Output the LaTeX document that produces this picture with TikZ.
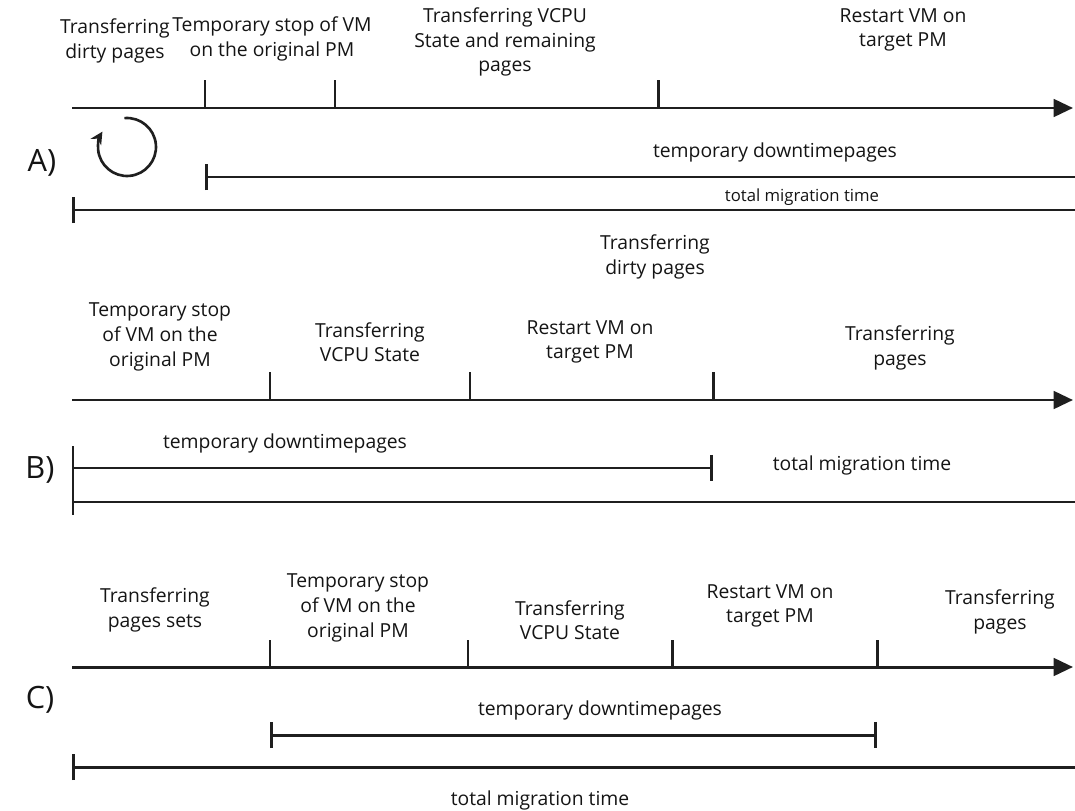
\documentclass[tikz,border=0pt]{standalone}
\usepackage{fontspec}
\setmainfont{Open Sans}
\usetikzlibrary{arrows.meta}
\tikzset{
  axis/.style={line width=1.7pt, draw=black!88, -{Triangle[length=11pt,width=10pt]}},
  tick/.style={line width=1.7pt, draw=black!88},
  span/.style={line width=1.7pt, draw=black!88},
  lbl/.style={align=center, inner sep=0pt, text=black!92, font=\fontsize{11}{14}\selectfont},
  small/.style={lbl, font=\fontsize{9.5}{12}\selectfont},
  part/.style={inner sep=0pt, text=black!92, font=\fontsize{17.5}{20}\selectfont},
}
\begin{document}
\begin{tikzpicture}[x=0.02cm, y=-0.02cm]
    \useasboundingbox (0,0) rectangle (1075,811);
    % A)
    \node[part] (partA) at (42,163) {A)};
    \node[lbl] (a1) at (115,41) {Transferring\\dirty pages};
    \node[lbl] (a2) at (272,39) {Temporary stop of VM\\on the original PM};
    \node[lbl] (a3) at (505,42) {Transferring VCPU\\State and remaining\\pages};
    \node[lbl] (a4) at (903,30) {Restart VM on\\target PM};
    \draw[axis] (72,108) -- (1073,108);
    \foreach \x in {205,335,658} \draw[tick] (\x,108) -- (\x,80);
    \draw[tick, line width=1.5pt, -{Stealth[length=7pt,width=7pt]}] (127,147) ++(95:16.5pt) arc[start angle=95, end angle=-212, radius=16.5pt];
    \node[lbl] (downA) at (775,152) {temporary downtimepages};
    \draw[span, {Bar[width=15pt]}-] (205,177) -- (1075,177);
    \node[small] (totalA) at (802,197) {total migration time};
    \draw[span, {Bar[width=15pt]}-] (72,210) -- (1075,210);
    \node[lbl] (dirty) at (655,257) {Transferring\\dirty pages};
    % B)
    \node[part] (partB) at (40,470) {B)};
    \node[lbl] (b1) at (160,337) {Temporary stop\\of VM on the\\original PM};
    \node[lbl] (b2) at (370,342) {Transferring\\VCPU State};
    \node[lbl] (b3) at (590,342) {Restart VM on\\target PM};
    \node[lbl] (b4) at (900,348) {Transferring\\pages};
    \draw[axis] (72,400) -- (1073,400);
    \foreach \x in {270,470,713} \draw[tick] (\x,400) -- (\x,372);
    \node[lbl] (downB) at (285,443) {temporary downtimepages};
    \draw[span, -{Bar[width=15pt]}] (72,468) -- (713,468);
    \draw[tick] (73,446) -- (73,515);
    \node[lbl] (totalB) at (862,465) {total migration time};
    \draw[span] (72,502) -- (1075,502);
    % C)
    \node[part] (partC) at (40,700) {C)};
    \node[lbl] (c1) at (155,610) {Transferring\\pages sets};
    \node[lbl] (c2) at (358,608) {Temporary stop\\of VM on the\\original PM};
    \node[lbl] (c3) at (570,620) {Transferring\\VCPU State};
    \node[lbl] (c4) at (770,606) {Restart VM on\\target PM};
    \node[lbl] (c5) at (1000,612) {Transferring\\pages};
    \draw[axis] (72,667) -- (1073,667);
    \foreach \x in {270,468,672,877} \draw[tick] (\x,667) -- (\x,640);
    \node[lbl] (downC) at (600,710) {temporary downtimepages};
    \draw[span, {Bar[width=15pt]}-{Bar[width=15pt]}] (270,735) -- (877,735);
    \draw[span, {Bar[width=15pt]}-] (72,767) -- (1075,767);
    \node[lbl] (totalC) at (540,800) {total migration time};
\end{tikzpicture}
\end{document}
